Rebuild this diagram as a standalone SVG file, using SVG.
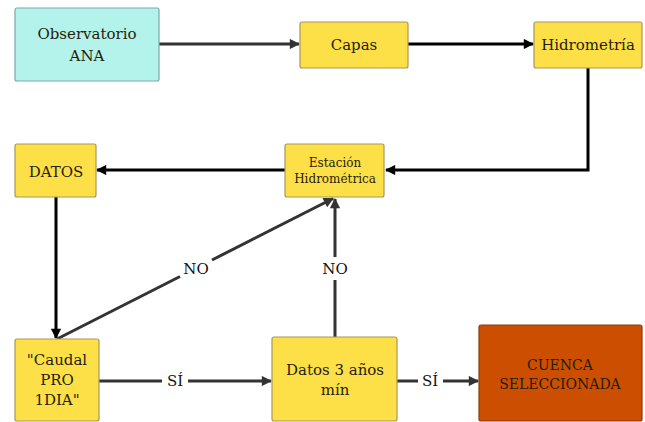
<svg xmlns="http://www.w3.org/2000/svg" width="645" height="422" viewBox="0 0 645 422">
  <defs>
    <style>
      .box { stroke: #a8975a; stroke-width: 1.2; }
      .y { fill: #fde048; }
      .c { fill: #b4f2ec; stroke: #7aa9a5; stroke-width: 1.2; }
      .o { fill: #cc4e00; stroke: #8a3a10; stroke-width: 1.2; }
      text { font-family: "DejaVu Serif", "Liberation Serif", serif; fill: #261d0a; text-anchor: middle; }
      .t15 { font-size: 15px; }
      .t12 { font-size: 12px; }
      .t14 { font-size: 14px; }
      .lbl { font-size: 15px; fill: #111; }
      .k { stroke: #000; stroke-width: 3; fill: none; }
      .g { stroke: #333; stroke-width: 3; fill: none; }
    </style>
    <marker id="ak" viewBox="0 0 10 10" refX="9" refY="5" markerWidth="4" markerHeight="3.4" orient="auto" markerUnits="strokeWidth">
      <path d="M0,0 L10,5 L0,10 Z" fill="#000"/>
    </marker>
    <marker id="ag" viewBox="0 0 10 10" refX="9" refY="5" markerWidth="4" markerHeight="3.4" orient="auto" markerUnits="strokeWidth">
      <path d="M0,0 L10,5 L0,10 Z" fill="#333"/>
    </marker>
  </defs>

  <g id="connectors">
    <line class="g" x1="159" y1="44" x2="299" y2="44" marker-end="url(#ag)"/>
    <line class="k" x1="408" y1="44" x2="533" y2="44" marker-end="url(#ak)"/>
    <polyline class="k" points="588,68 588,170 386,170" marker-end="url(#ak)"/>
    <line class="k" x1="285" y1="170" x2="97" y2="170" marker-end="url(#ak)"/>
    <line class="k" x1="56" y1="197" x2="56" y2="338" marker-end="url(#ak)"/>
    <!-- diagonal NO branch, broken around its label -->
    <line class="g" x1="57" y1="339" x2="180" y2="276.5"/>
    <line class="g" x1="212" y1="260" x2="333" y2="198.5" marker-end="url(#ag)"/>
    <text class="lbl" x="196" y="274">NO</text>
    <!-- vertical NO branch -->
    <line class="g" x1="335" y1="337" x2="335" y2="280"/>
    <line class="g" x1="335" y1="257" x2="335" y2="199" marker-end="url(#ag)"/>
    <text class="lbl" x="335" y="274">NO</text>
    <!-- SÍ branches -->
    <line class="g" x1="99" y1="381" x2="162" y2="381"/>
    <line class="g" x1="188" y1="381" x2="271" y2="381" marker-end="url(#ag)"/>
    <text class="lbl" x="175" y="386">SÍ</text>
    <line class="g" x1="397" y1="381" x2="418" y2="381"/>
    <line class="g" x1="443" y1="381" x2="478" y2="381" marker-end="url(#ag)"/>
    <text class="lbl" x="430" y="386">SÍ</text>
  </g>

  <g id="observatorio">
    <rect class="c" x="15" y="8" width="144" height="73" rx="2"/>
    <text class="t15" x="87" y="39">Observatorio</text>
    <text class="t15" x="87" y="61">ANA</text>
  </g>
  <g id="capas">
    <rect class="box y" x="300" y="22" width="108" height="46" rx="2"/>
    <text class="t15" x="354" y="50">Capas</text>
  </g>
  <g id="hidrometria">
    <rect class="box y" x="534" y="22" width="108" height="46" rx="2"/>
    <text class="t15" x="588" y="50">Hidrometría</text>
  </g>
  <g id="estacion">
    <rect class="box y" x="285" y="144" width="99" height="53" rx="2"/>
    <text class="t12" x="335" y="167">Estación</text>
    <text class="t12" x="335" y="183">Hidrométrica</text>
  </g>
  <g id="datos">
    <rect class="box y" x="15" y="144" width="81" height="53" rx="2"/>
    <text class="t15" x="56" y="177">DATOS</text>
  </g>
  <g id="caudal">
    <rect class="box y" x="15" y="339" width="84" height="82" rx="2"/>
    <text class="t15" x="57" y="365">"Caudal</text>
    <text class="t15" x="57" y="385">PRO</text>
    <text class="t15" x="57" y="405">1DIA"</text>
  </g>
  <g id="datos3">
    <rect class="box y" x="272" y="337" width="125" height="84" rx="2"/>
    <text class="t15" x="335" y="375">Datos 3 años</text>
    <text class="t15" x="335" y="395">mín</text>
  </g>
  <g id="cuenca">
    <rect class="o" x="479" y="325" width="163" height="96" rx="2"/>
    <text class="t14" x="560" y="370">CUENCA</text>
    <text class="t14" x="560" y="389">SELECCIONADA</text>
  </g>
</svg>
